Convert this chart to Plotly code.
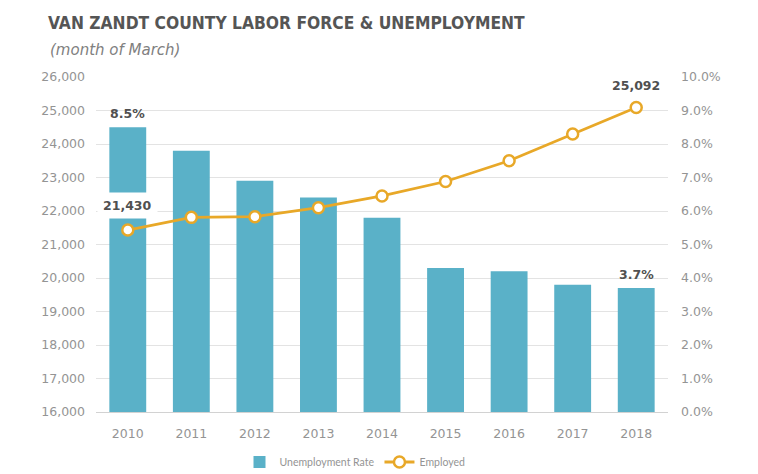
import plotly.graph_objects as go

years = [2010, 2011, 2012, 2013, 2014, 2015, 2016, 2017, 2018]
unemployment_rate = [8.5, 7.8, 6.9, 6.4, 5.8, 4.3, 4.2, 3.8, 3.7]
employed = [21430, 21810, 21830, 22100, 22450, 22880, 23500, 24300, 25092]

W, H = 758, 474
OFF = 8  # page body margin
L, R, T, B = 96 - OFF, 668 - OFF, 77 - OFF, 412 - OFF
pw, ph = R - L, B - T

def px(x):
    return (x - OFF - L) / pw

def py(y):
    return (B - (y - OFF)) / ph

BAR = "#5ab1c8"
GOLD = "#e8a828"
TXT = "#949494"
LBL = "#505050"
TICKF = dict(family="DejaVu Sans", size=12.5, color=TXT)

fig = go.Figure()
fig.add_trace(go.Bar(
    x=years, y=unemployment_rate, name="Unemployment Rate",
    marker=dict(color=BAR, line=dict(width=0)), yaxis="y",
))
fig.add_trace(go.Scatter(
    x=years, y=employed, name="Employed", mode="lines+markers", yaxis="y2",
    line=dict(color=GOLD, width=2.8),
    marker=dict(size=11, color="white", line=dict(color=GOLD, width=2.5)),
))

LF = dict(family="DejaVu Sans", size=12.5, color=LBL)
ann = []
ann.append(dict(x=years[0], y=unemployment_rate[0], xref="x", yref="y",
                text=f"<b>{unemployment_rate[0]:.1f}%</b>", showarrow=False,
                yshift=14, font=LF))
ann.append(dict(x=years[-1], y=unemployment_rate[-1], xref="x", yref="y",
                text=f"<b>{unemployment_rate[-1]:.1f}%</b>", showarrow=False,
                yshift=14, font=LF))
ann.append(dict(x=years[0], y=employed[0], xref="x", yref="y2",
                text=f"<b>{employed[0]:,}</b>", showarrow=False,
                yshift=25, bgcolor="white", borderpad=5, font=LF))
ann.append(dict(x=years[-1], y=employed[-1], xref="x", yref="y2",
                text=f"<b>{employed[-1]:,}</b>", showarrow=False,
                yshift=22, font=LF))
ann.append(dict(x=px(48), y=py(50), xref="paper", yref="paper", xanchor="left",
                yanchor="middle", showarrow=False,
                text="<i>(month of March)</i>",
                font=dict(family="DejaVu Sans", size=15, color="#808080")))

fig.update_layout(
    width=W, height=H,
    margin=dict(l=L, r=W - R, t=T, b=H - B, autoexpand=False),
    paper_bgcolor="white", plot_bgcolor="white",
    title=dict(text="<b>VAN ZANDT COUNTY LABOR FORCE &amp; UNEMPLOYMENT</b>",
               x=(48 - OFF) / W, xanchor="left", xref="container",
               y=1 - (23 - OFF) / H, yanchor="middle", yref="container",
               font=dict(family="DejaVu Sans Condensed", size=17.3, color="#555555")),
    bargap=0.42,
    showlegend=True,
    legend=dict(orientation="h", x=px(355), xanchor="center", y=py(462), yanchor="middle",
                font=dict(family="Lato", size=10.5, color=TXT), traceorder="normal"),
    xaxis=dict(type="linear", range=[2009.5, 2018.5], dtick=1, tickformat="d",
               showgrid=False, showline=False, ticks="", zeroline=False,
               ticklabelstandoff=12, tickfont=TICKF),
    yaxis=dict(side="right", range=[0, 10], dtick=1, tickformat=".1f", ticksuffix="%",
               showgrid=True, gridcolor="#e3e3e3", gridwidth=1, zeroline=True,
               zerolinecolor="#d2d2d2", zerolinewidth=1,
               ticklabelstandoff=12, tickfont=TICKF),
    yaxis2=dict(side="left", overlaying="y", range=[16000, 26000], dtick=1000,
                tickformat=",", showgrid=False, zeroline=False,
                ticklabelstandoff=10, tickfont=TICKF),
    annotations=ann,
)

fig.write_html("out.html")
